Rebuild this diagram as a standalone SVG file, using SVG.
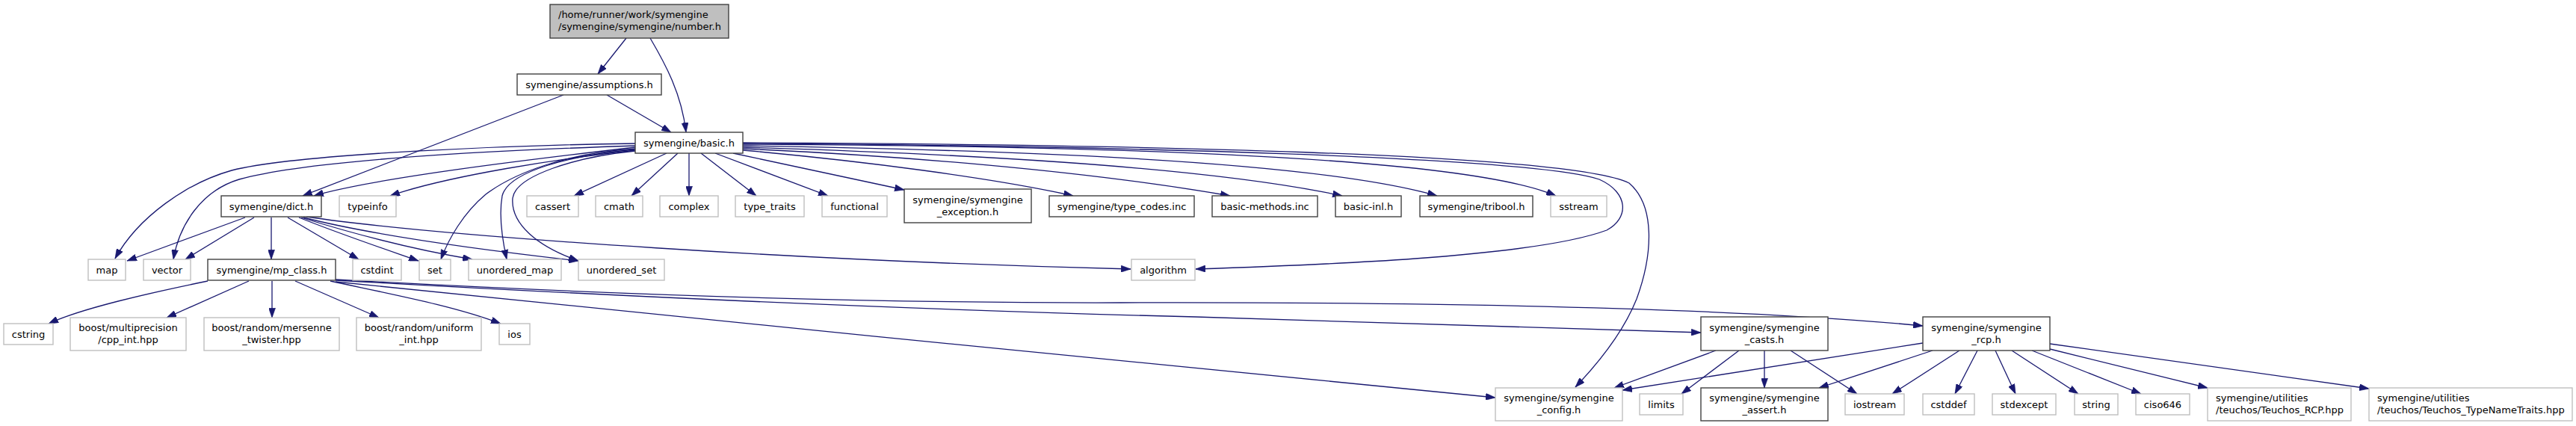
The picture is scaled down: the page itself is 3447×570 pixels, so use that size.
<svg xmlns="http://www.w3.org/2000/svg" width="3447" height="570" viewBox="0 0 3447 570">
<style>
.e{fill:none;stroke:#191970;stroke-width:1.3}
.d{fill:#fff;stroke:#404040;stroke-width:1.4}
.g{fill:#fff;stroke:#bfbfbf;stroke-width:1.4}
.r{fill:#bfbfbf;stroke:#404040;stroke-width:1.4}
text{font-family:"DejaVu Sans","Liberation Sans",sans-serif;font-size:13px;fill:#000}
.c{text-anchor:middle}
</style>
<defs>
<marker id="a" viewBox="0 0 10 7" refX="10" refY="3.5" markerWidth="13" markerHeight="9" markerUnits="userSpaceOnUse" orient="auto">
<path d="M0,0 L10,3.5 L0,7 z" fill="#191970" stroke="#191970" stroke-width="0.5"/>
</marker>
</defs>
<rect width="3447" height="570" fill="#fff"/>
<g id="edges" class="edges">
<path class="e" marker-end="url(#a)" d="M838,51 L800,99"/>
<path class="e" marker-end="url(#a)" d="M870,51 C890,85 912,125 918,177"/>
<path class="e" marker-end="url(#a)" d="M812,127 L898,177"/>
<path class="e" marker-end="url(#a)" d="M754,127 L405,262"/>
<path class="e" marker-end="url(#a)" d="M850,197 C720,212 500,238 420,262"/>
<path class="e" marker-end="url(#a)" d="M850,192 C700,194 400,205 310,228 C250,245 185,290 154,346"/>
<path class="e" marker-end="url(#a)" d="M850,195 C700,200 420,212 320,240 C270,255 240,300 232,347"/>
<path class="e" marker-end="url(#a)" d="M850,201 C750,212 600,235 522,262"/>
<path class="e" marker-end="url(#a)" d="M850,199 C760,205 690,230 650,260 C620,285 600,320 590,347"/>
<path class="e" marker-end="url(#a)" d="M850,200 C760,208 680,230 672,262 C667,290 672,320 678,347"/>
<path class="e" marker-end="url(#a)" d="M850,202 C770,210 690,235 686,265 C683,300 720,330 774,349"/>
<path class="e" marker-end="url(#a)" d="M892,205 L768,262"/>
<path class="e" marker-end="url(#a)" d="M907,205 L845,262"/>
<path class="e" marker-end="url(#a)" d="M922,205 L922,262"/>
<path class="e" marker-end="url(#a)" d="M938,205 L1012,262"/>
<path class="e" marker-end="url(#a)" d="M957,205 L1108,262"/>
<path class="e" marker-end="url(#a)" d="M981,205 L1210,254"/>
<path class="e" marker-end="url(#a)" d="M994,201 C1150,215 1330,238 1436,262"/>
<path class="e" marker-end="url(#a)" d="M994,199 C1200,208 1450,228 1646,262"/>
<path class="e" marker-end="url(#a)" d="M994,197 C1250,205 1600,220 1796,262"/>
<path class="e" marker-end="url(#a)" d="M994,195 C1300,200 1750,212 1923,262"/>
<path class="e" marker-end="url(#a)" d="M994,193 C1400,195 1950,205 2082,262"/>
<path class="e" marker-end="url(#a)" d="M994,192 C1500,195 2050,210 2140,240 C2180,258 2180,292 2150,308 C2050,345 1750,355 1600,360"/>
<path class="e" marker-end="url(#a)" d="M994,191 C1500,193 2100,205 2180,245 C2215,275 2212,340 2190,400 C2170,450 2130,495 2108,518"/>
<path class="e" marker-end="url(#a)" d="M328,291 L170,349"/>
<path class="e" marker-end="url(#a)" d="M340,291 L248,347"/>
<path class="e" marker-end="url(#a)" d="M363,291 L363,347"/>
<path class="e" marker-end="url(#a)" d="M385,291 L480,347"/>
<path class="e" marker-end="url(#a)" d="M400,291 C460,315 520,335 560,349"/>
<path class="e" marker-end="url(#a)" d="M403,291 C480,315 560,335 632,347"/>
<path class="e" marker-end="url(#a)" d="M406,291 C500,315 650,335 774,349"/>
<path class="e" marker-end="url(#a)" d="M410,290 C600,318 1100,350 1513,360"/>
<path class="e" marker-end="url(#a)" d="M278,376 C200,392 110,412 65,433"/>
<path class="e" marker-end="url(#a)" d="M333,376 L223,425"/>
<path class="e" marker-end="url(#a)" d="M364,376 L364,425"/>
<path class="e" marker-end="url(#a)" d="M395,376 L507,425"/>
<path class="e" marker-end="url(#a)" d="M442,376 C530,395 610,410 670,433"/>
<path class="e" marker-end="url(#a)" d="M449,377 C900,422 1600,495 2001,532"/>
<path class="e" marker-end="url(#a)" d="M449,375 C800,395 1200,414 1600,424 C1900,432 2100,440 2276,445"/>
<path class="e" marker-end="url(#a)" d="M449,374 C700,388 1100,406 1500,405 C1900,404 2300,410 2573,436"/>
<path class="e" marker-end="url(#a)" d="M2296,469 L2160,519"/>
<path class="e" marker-end="url(#a)" d="M2327,469 L2250,527"/>
<path class="e" marker-end="url(#a)" d="M2361,469 L2361,519"/>
<path class="e" marker-end="url(#a)" d="M2396,469 L2485,527"/>
<path class="e" marker-end="url(#a)" d="M2573,459 L2171,522"/>
<path class="e" marker-end="url(#a)" d="M2586,469 L2434,519"/>
<path class="e" marker-end="url(#a)" d="M2622,469 L2532,527"/>
<path class="e" marker-end="url(#a)" d="M2646,469 L2616,527"/>
<path class="e" marker-end="url(#a)" d="M2670,469 L2697,527"/>
<path class="e" marker-end="url(#a)" d="M2692,469 L2781,527"/>
<path class="e" marker-end="url(#a)" d="M2719,469 L2865,527"/>
<path class="e" marker-end="url(#a)" d="M2743,467 L2954,519"/>
<path class="e" marker-end="url(#a)" d="M2743,460 L3170,520"/>
</g>
<g id="number_h"><rect class="r" x="736" y="6" width="239" height="45"/><text x="747" y="24">/home/runner/work/symengine</text><text x="747" y="40">/symengine/symengine/number.h</text></g>
<g id="assumptions_h"><rect class="d" x="692" y="99" width="193" height="28"/><text class="c" x="788.5" y="117.5">symengine/assumptions.h</text></g>
<g id="basic_h"><rect class="d" x="850" y="177" width="144" height="28"/><text class="c" x="922" y="195.5">symengine/basic.h</text></g>
<g id="dict_h"><rect class="d" x="296" y="262" width="134" height="28"/><text class="c" x="363" y="280.5">symengine/dict.h</text></g>
<g id="typeinfo"><rect class="g" x="454" y="262" width="76" height="28"/><text class="c" x="492" y="280.5">typeinfo</text></g>
<g id="cassert"><rect class="g" x="705" y="262" width="69" height="28"/><text class="c" x="739.5" y="280.5">cassert</text></g>
<g id="cmath"><rect class="g" x="797" y="262" width="63" height="28"/><text class="c" x="828.5" y="280.5">cmath</text></g>
<g id="complex"><rect class="g" x="883" y="262" width="78" height="28"/><text class="c" x="922" y="280.5">complex</text></g>
<g id="type_traits"><rect class="g" x="984" y="262" width="92" height="28"/><text class="c" x="1030" y="280.5">type_traits</text></g>
<g id="functional"><rect class="g" x="1100" y="262" width="87" height="28"/><text class="c" x="1143.5" y="280.5">functional</text></g>
<g id="symengine_exception_h"><rect class="d" x="1210" y="253" width="170" height="45"/><text class="c" x="1295" y="272">symengine/symengine</text><text class="c" x="1295" y="288">_exception.h</text></g>
<g id="type_codes_inc"><rect class="d" x="1404" y="262" width="194" height="28"/><text class="c" x="1501" y="280.5">symengine/type_codes.inc</text></g>
<g id="basic_methods_inc"><rect class="d" x="1622" y="262" width="141" height="28"/><text class="c" x="1692.5" y="280.5">basic-methods.inc</text></g>
<g id="basic_inl_h"><rect class="d" x="1787" y="262" width="88" height="28"/><text class="c" x="1831" y="280.5">basic-inl.h</text></g>
<g id="tribool_h"><rect class="d" x="1900" y="262" width="151" height="28"/><text class="c" x="1975.5" y="280.5">symengine/tribool.h</text></g>
<g id="sstream"><rect class="g" x="2075" y="262" width="75" height="28"/><text class="c" x="2112.5" y="280.5">sstream</text></g>
<g id="map"><rect class="g" x="118" y="347" width="50" height="28"/><text class="c" x="143" y="365.5">map</text></g>
<g id="vector"><rect class="g" x="192" y="347" width="63" height="28"/><text class="c" x="223.5" y="365.5">vector</text></g>
<g id="mp_class_h"><rect class="d" x="278" y="347" width="171" height="28"/><text class="c" x="363.5" y="365.5">symengine/mp_class.h</text></g>
<g id="cstdint"><rect class="g" x="472" y="347" width="65" height="28"/><text class="c" x="504.5" y="365.5">cstdint</text></g>
<g id="set"><rect class="g" x="561" y="347" width="42" height="28"/><text class="c" x="582" y="365.5">set</text></g>
<g id="unordered_map"><rect class="g" x="627" y="347" width="124" height="28"/><text class="c" x="689" y="365.5">unordered_map</text></g>
<g id="unordered_set"><rect class="g" x="774" y="347" width="115" height="28"/><text class="c" x="831.5" y="365.5">unordered_set</text></g>
<g id="algorithm"><rect class="g" x="1514" y="347" width="85" height="28"/><text class="c" x="1556.5" y="365.5">algorithm</text></g>
<g id="cstring"><rect class="g" x="5" y="433" width="66" height="28"/><text class="c" x="38" y="451.5">cstring</text></g>
<g id="cpp_int_hpp"><rect class="g" x="94" y="425" width="155" height="44"/><text class="c" x="171.5" y="443">boost/multiprecision</text><text class="c" x="171.5" y="459">/cpp_int.hpp</text></g>
<g id="mersenne_twister_hpp"><rect class="g" x="273" y="425" width="181" height="44"/><text class="c" x="363.5" y="443">boost/random/mersenne</text><text class="c" x="363.5" y="459">_twister.hpp</text></g>
<g id="uniform_int_hpp"><rect class="g" x="477" y="425" width="167" height="44"/><text class="c" x="560.5" y="443">boost/random/uniform</text><text class="c" x="560.5" y="459">_int.hpp</text></g>
<g id="ios"><rect class="g" x="668" y="433" width="41" height="28"/><text class="c" x="688.5" y="451.5">ios</text></g>
<g id="symengine_casts_h"><rect class="d" x="2276" y="424" width="170" height="45"/><text class="c" x="2361" y="443">symengine/symengine</text><text class="c" x="2361" y="459">_casts.h</text></g>
<g id="symengine_rcp_h"><rect class="d" x="2573" y="424" width="170" height="45"/><text class="c" x="2658" y="443">symengine/symengine</text><text class="c" x="2658" y="459">_rcp.h</text></g>
<g id="symengine_config_h"><rect class="g" x="2001" y="519" width="170" height="44"/><text class="c" x="2086" y="537">symengine/symengine</text><text class="c" x="2086" y="553">_config.h</text></g>
<g id="limits"><rect class="g" x="2194" y="527" width="58" height="28"/><text class="c" x="2223" y="545.5">limits</text></g>
<g id="symengine_assert_h"><rect class="d" x="2276" y="519" width="170" height="44"/><text class="c" x="2361" y="537">symengine/symengine</text><text class="c" x="2361" y="553">_assert.h</text></g>
<g id="iostream"><rect class="g" x="2469" y="527" width="79" height="28"/><text class="c" x="2508.5" y="545.5">iostream</text></g>
<g id="cstddef"><rect class="g" x="2573" y="527" width="69" height="28"/><text class="c" x="2607.5" y="545.5">cstddef</text></g>
<g id="stdexcept"><rect class="g" x="2666" y="527" width="85" height="28"/><text class="c" x="2708.5" y="545.5">stdexcept</text></g>
<g id="string"><rect class="g" x="2776" y="527" width="58" height="28"/><text class="c" x="2805" y="545.5">string</text></g>
<g id="ciso646"><rect class="g" x="2858" y="527" width="72" height="28"/><text class="c" x="2894" y="545.5">ciso646</text></g>
<g id="teuchos_rcp_hpp"><rect class="g" x="2954" y="519" width="192" height="44"/><text x="2965" y="537">symengine/utilities</text><text x="2965" y="553">/teuchos/Teuchos_RCP.hpp</text></g>
<g id="teuchos_typenametraits_hpp"><rect class="g" x="3170" y="519" width="272" height="44"/><text x="3181" y="537">symengine/utilities</text><text x="3181" y="553">/teuchos/Teuchos_TypeNameTraits.hpp</text></g>
</svg>
